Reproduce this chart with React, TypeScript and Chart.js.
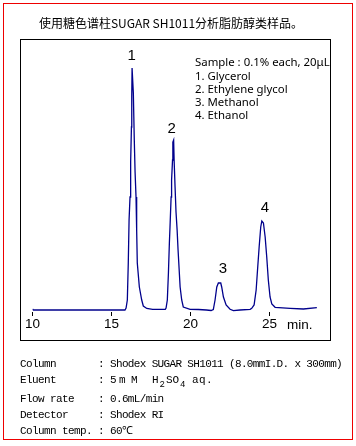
import { useEffect, useRef } from "react";
import { Chart, registerables } from "chart.js";
Chart.register(...registerables);

// Retention time (min) and detector signal (arbitrary units)
const times = [10.0, 10.05, 12.0, 15.0, 15.85, 15.92, 16.0, 16.06, 16.11, 16.17, 16.21, 16.26, 16.28, 16.3, 16.34, 16.38, 16.44, 16.49, 16.55, 16.59, 16.63, 16.76, 16.91, 17.01, 17.23, 17.6, 18.0, 18.4, 18.45, 18.53, 18.6, 18.66, 18.7, 18.77, 18.8, 18.86, 18.88, 18.93, 18.96, 19.02, 19.08, 19.15, 19.21, 19.34, 19.44, 19.54, 19.97, 20.5, 21.0, 21.3, 21.44, 21.55, 21.66, 21.76, 21.91, 21.97, 22.08, 22.25, 22.5, 22.71, 23.13, 23.77, 23.87, 24.02, 24.15, 24.25, 24.34, 24.44, 24.51, 24.61, 24.72, 24.82, 24.92, 25.03, 25.14, 25.35, 26.3, 27.14, 27.99];
const signals = [3, 2, 2, 2, 2, 4, 12, 49, 92, 115, 150, 185, 215, 244, 244, 219, 172, 140, 115, 82, 49, 25, 12, 6, 3.5, 2.7, 2.6, 2.7, 4, 12, 39, 69, 85, 115, 132, 152, 170, 172, 152, 125, 100, 82, 62, 25, 12, 5, 2.7, 2.5, 2.0, 1.5, 2.5, 12, 25, 29, 29, 25, 15, 7, 2.7, 1.3, 2, 2.7, 3.7, 7, 22, 45, 65, 85, 91, 89, 75, 55, 32, 15, 8, 4.7, 3.7, 3, 4.3];

const tickValues = [10, 15, 20, 25];
const axisUnit = "min.";

// Peak number labels: position (time, signal) of each label
const peakNumbers = ["1", "2", "3", "4"];
const labelTimes = [16.28, 18.81, 22.04, 24.71];
const labelSignals = [252, 179, 39, 100];

const title = "使用糖色谱柱SUGAR SH1011分析脂肪醇类样品。";
const sampleLines = [
  "Sample : 0.1% each, 20μL",
  "1. Glycerol",
  "2. Ethylene glycol",
  "3. Methanol",
  "4. Ethanol",
];
const conditionLabels = ["Column", "Eluent", "Flow rate", "Detector", "Column temp."];
const conditionValues = [
  "Shodex SUGAR SH1011 (8.0mmI.D. x 300mm)",
  "",
  "0.6mL/min",
  "Shodex RI",
  "60℃",
];

const monoFont = '11px "Liberation Mono", monospace';
const subFont = '9px "Liberation Mono", monospace';

function drawMono(ctx: CanvasRenderingContext2D, text: string, x: number, y: number, step: number) {
  for (let i = 0; i < text.length; i++) {
    ctx.fillText(text[i], x + i * step, y);
  }
}

const decorPlugin = {
  id: "decor",
  beforeDraw(chart: any) {
    const ctx = chart.ctx as CanvasRenderingContext2D;
    ctx.save();
    ctx.fillStyle = "#ffffff";
    ctx.fillRect(0, 0, chart.width, chart.height);
    ctx.restore();
  },
  afterDraw(chart: any) {
    const ctx = chart.ctx as CanvasRenderingContext2D;
    const xs = chart.scales.x;
    const ys = chart.scales.y;
    ctx.save();
    // outer red frame
    ctx.strokeStyle = "#ee0000";
    ctx.lineWidth = 1;
    ctx.strokeRect(3.5, 3.5, 349, 436);
    // inner black frame
    ctx.strokeStyle = "#000000";
    ctx.strokeRect(20.5, 39.5, 310, 301);

    // title
    ctx.fillStyle = "#000";
    ctx.font = '12px "Noto Sans CJK SC", sans-serif';
    ctx.textAlign = "center";
    ctx.textBaseline = "middle";
    ctx.fillText(title, 171, 23);

    // peak labels
    ctx.font = '15px "Liberation Sans", Arial, sans-serif';
    ctx.textBaseline = "alphabetic";
    peakNumbers.forEach((n, i) => {
      ctx.fillText(n, xs.getPixelForValue(labelTimes[i]), ys.getPixelForValue(labelSignals[i]));
    });

    // unit label
    ctx.font = '13.5px "Liberation Sans", Arial, sans-serif';
    ctx.textAlign = "left";
    ctx.fillText(axisUnit, 287, 328.5);

    // sample legend
    ctx.font = '11.4px "Noto Sans", sans-serif';
    ctx.textBaseline = "middle";
    sampleLines.forEach((s, i) => {
      ctx.fillText(s, 195, 63 + i * 13.3);
    });

    // conditions table
    ctx.font = monoFont;
    ctx.textBaseline = "alphabetic";
    const baselines = [367, 383, 402, 418, 433.5];
    conditionLabels.forEach((lab, i) => {
      drawMono(ctx, lab, 20, baselines[i], 6);
      drawMono(ctx, ":", 98, baselines[i], 6);
      if (conditionValues[i]) drawMono(ctx, conditionValues[i], 110, baselines[i], 5.95);
    });
    // eluent with subscripts
    const by = baselines[1];
    ctx.fillText("5", 110, by);
    ctx.fillText("m", 119, by);
    ctx.fillText("M", 131, by);
    ctx.fillText("H", 152, by);
    ctx.font = subFont;
    ctx.fillText("2", 159.5, by + 3.5);
    ctx.font = monoFont;
    drawMono(ctx, "SO", 166, by, 6.5);
    ctx.font = subFont;
    ctx.fillText("4", 180, by + 3.5);
    ctx.font = monoFont;
    drawMono(ctx, "aq.", 192, by, 7);
    ctx.restore();
  },
};

export default function App() {
  const ref = useRef<HTMLCanvasElement>(null);
  useEffect(() => {
    if (!ref.current) return;
    const chart = new Chart(ref.current, {
      type: "line",
      data: {
        datasets: [
          {
            data: times.map((t, i) => ({ x: t, y: signals[i] })),
            borderColor: "#00008c",
            borderWidth: 1.3,
            pointRadius: 0,
            tension: 0,
            fill: false,
          },
        ],
      },
      options: {
        animation: false,
        responsive: false,
        devicePixelRatio: 1,
        layout: { padding: { left: 32.5, right: 39, top: 52, bottom: 104 } },
        plugins: { legend: { display: false }, tooltip: { enabled: false }, title: { display: false } },
        scales: {
          x: {
            type: "linear",
            min: 10,
            max: 28,
            afterBuildTicks: (scale: any) => {
              scale.ticks = tickValues.map((v) => ({ value: v }));
            },
            afterFit: (scale: any) => {
              scale.height = 30;
            },
            grid: { display: true, drawOnChartArea: false, drawTicks: true, tickLength: 4, color: "#000" },
            border: { display: false },
            ticks: {
              padding: 0,
              color: "#000",
              maxRotation: 0,
              autoSkip: false,
              font: { family: '"Liberation Sans", Arial, sans-serif', size: 13.5 },
            },
          },
          y: { display: false, min: 0, max: 260 },
        },
      },
      plugins: [decorPlugin],
    });
    return () => chart.destroy();
  }, []);
  return (
    <div style={{ position: "absolute", left: 0, top: 0, width: 356, height: 446, background: "#fff" }}>
      <canvas ref={ref} width={356} height={446} style={{ display: "block" }} />
    </div>
  );
}
